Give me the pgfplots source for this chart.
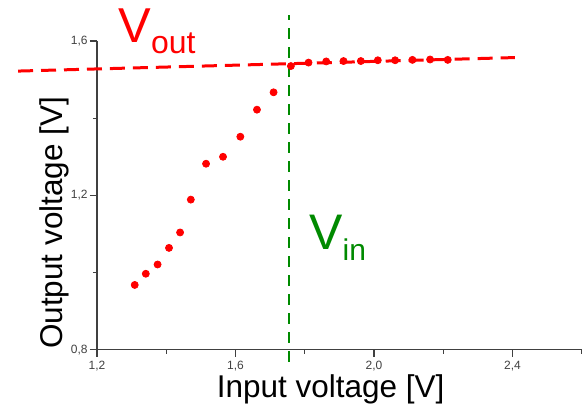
\documentclass[border=0pt]{standalone}
\usepackage{fontspec}
\setmainfont{Liberation Sans}
\usepackage{pgfplots}
\pgfplotsset{compat=1.18}
\definecolor{vred}{HTML}{FF0000}
\definecolor{vgreen}{HTML}{008A00}
\definecolor{axgray}{HTML}{404040}

\begin{document}
\begin{tikzpicture}
\begin{axis}[
    scale only axis,
    width=242.5pt, height=154.5pt,
    xmin=1.2, xmax=2.6, ymin=0.8, ymax=1.6,
    axis lines=left,
    axis line style={-, axgray, line width=0.6pt},
    clip=false,
    xtick={1.2,1.6,2.0,2.4},
    minor xtick={1.4,1.8,2.2,2.6},
    ytick={0.8,1.2,1.6},
    minor ytick={1.0,1.4},
    tick align=outside,
    major tick length=3.5pt,
    minor tick length=2pt,
    tick style={axgray, line width=0.6pt},
    ticklabel style={font=\fontsize{6}{7}\selectfont, text=axgray},
    yticklabel style={inner sep=1pt},
    xticklabel style={inner sep=2pt},
    /pgf/number format/.cd, use comma, fixed, fixed zerofill, precision=1, assume math mode=true,
    /pgfplots/.cd,
    xlabel={Input voltage [V]},
    ylabel={Output voltage [V]},
    label style={font=\fontsize{15.75}{16}\selectfont, inner sep=0pt},
    xlabel style={at={(axis description cs:0.482,0)}, anchor=base, yshift=-24pt},
    ylabel style={at={([xshift=-17.5pt]axis description cs:0,0.411)}, anchor=base},
]
\coordinate (bbl) at (axis cs:0.9199,0.6498);
\coordinate (bbr) at (axis cs:2.6094,1.7061);

% fitted output level
\addplot[vred, line width=1.5pt, dash pattern=on 7.5pt off 4pt] coordinates {
    (0.972,1.522) (2.407,1.557)
};
% input threshold
\addplot[vgreen, line width=1.2pt, dash pattern=on 5.5pt off 4pt] coordinates {
    (1.755,0.769) (1.755,1.667)
};

\addplot[only marks, mark=*, mark size=1.75pt, vred] coordinates {
    (1.309,0.968) (1.341,0.997) (1.375,1.021) (1.408,1.064) (1.440,1.104)
    (1.471,1.189) (1.515,1.282) (1.564,1.300) (1.614,1.352) (1.662,1.422)
    (1.710,1.467) (1.760,1.535) (1.811,1.544) (1.862,1.547) (1.912,1.548)
    (1.962,1.548) (2.011,1.550) (2.061,1.550) (2.111,1.551) (2.162,1.552)
    (2.213,1.551)
};

\node[anchor=base west, inner sep=0pt, text=vred] at (axis cs:1.261,1.597)
    {\fontsize{24.5}{25}\selectfont V\raisebox{-5.5pt}{\fontsize{16}{16}\selectfont out}};
\node[anchor=base west, inner sep=0pt, text=vgreen] at (axis cs:1.812,1.059)
    {\fontsize{25}{25}\selectfont V\raisebox{-5.5pt}{\fontsize{15}{15}\selectfont in}};
\end{axis}
\pgfresetboundingbox
\path[use as bounding box] (bbl) rectangle (bbr);
\end{tikzpicture}
\end{document}
